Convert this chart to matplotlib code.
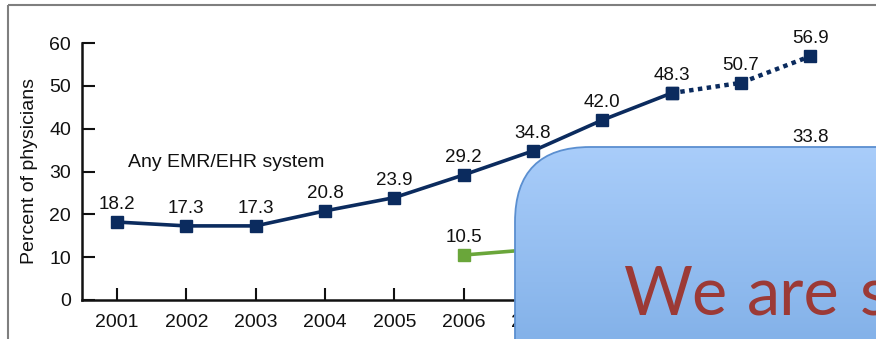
import numpy as np
import matplotlib.pyplot as plt
from matplotlib.patches import FancyBboxPatch, Rectangle

years = [2001, 2002, 2003, 2004, 2005, 2006, 2007, 2008, 2009, 2010, 2011]
any_emr = [18.2, 17.3, 17.3, 20.8, 23.9, 29.2, 34.8, 42.0, 48.3, 50.7, 56.9]
basic_years = [2006, 2007, 2008, 2009, 2010, 2011]
basic = [10.5, 11.8, 16.9, 21.8, 24.9, 33.8]

navy = '#0b2b5e'
green = '#6aa63a'

plt.rcParams['font.family'] = ['Liberation Sans', 'DejaVu Sans']

fig = plt.figure(figsize=(8.76, 3.39), dpi=100)
W, H = 876, 339
ax = fig.add_axes([82 / W, (H - 300) / H, (W - 82) / W, (300 - 43) / H])

# any EMR/EHR: solid through 2009, dotted for the later years
ax.plot(years[:9], any_emr[:9], color=navy, lw=2.6, marker='s', ms=8.5, zorder=3)
ax.plot(years[8:], any_emr[8:], color=navy, lw=3.2, ls=(0, (1, 1)), marker='s', ms=8.5,
        dash_capstyle='butt', zorder=3)
ax.plot(basic_years[:4], basic[:4], color=green, lw=2.6, marker='s', ms=8.5, zorder=3)
ax.plot(basic_years[3:], basic[3:], color=green, lw=3.2, ls=(0, (1, 1)), marker='s', ms=8.5, zorder=3)

for x, y in zip(years, any_emr):
    ax.annotate(f'{y:.1f}', (x, y), xytext=(0, 6.5), textcoords='offset points',
                ha='center', va='bottom', fontsize=13.5, color='#111111')
for x, y in zip(basic_years, basic):
    ax.annotate(f'{y:.1f}', (x, y), xytext=(0, 6.5), textcoords='offset points',
                ha='center', va='bottom', fontsize=13.5, color='#111111')

ax.text(2002.57, 32.0, 'Any EMR/EHR system', ha='center', va='center', fontsize=14, color='#111111')

ax.set_xlim(2000.495, 2011.95)
ax.set_ylim(0, 60)
ax.set_xticks(years)
ax.set_yticks(range(0, 61, 10))
ax.tick_params(axis='both', direction='in', length=9, width=1.5, labelsize=14, colors='#111111')
ax.tick_params(axis='x', pad=10)
ax.tick_params(axis='y', pad=8)
for side in ['top', 'right']:
    ax.spines[side].set_visible(False)
for side in ['left', 'bottom']:
    ax.spines[side].set_linewidth(1.8)
    ax.spines[side].set_color('#111111')
ax.set_ylabel('Percent of physicians', fontsize=14, color='#111111')
ax.yaxis.set_label_coords(-0.055, 0.5)

# overlay in pixel coordinates: frame, slide box and its caption
ov = fig.add_axes([0, 0, 1, 1], zorder=10)
ov.set_xlim(0, W)
ov.set_ylim(H, 0)
ov.axis('off')
ov.patch.set_visible(False)

ov.add_patch(Rectangle((8, 5), 900, 400, fill=False, ec='#7f7f7f', lw=1.5))

box = FancyBboxPatch((515, 147), 500, 300, boxstyle='round,pad=0,rounding_size=75',
                     fc='none', ec='#5b8fd0', lw=1.3, zorder=3)
ov.add_patch(box)
top = np.array([0xa9, 0xcd, 0xfa]) / 255
bot = np.array([0x84, 0xb2, 0xe9]) / 255
t = np.linspace(0, 1, 200)[:, None, None]
grad = top * (1 - t) + bot * t
grad = np.repeat(grad, 2, axis=1)
img = ov.imshow(grad, extent=(515, 1015, 339, 147), aspect='auto', zorder=2)
img.set_clip_path(box)
ov.set_xlim(0, W)
ov.set_ylim(H, 0)

# caption words set individually for wider spacing
for wx, word in [(624, 'We'), (747, 'are'), (860, 's')]:
    ov.text(wx, 315, word, fontsize=48, color='#9c3a36', family='Lato',
            ha='left', va='baseline', zorder=4)

fig.savefig('out.png', dpi=100)
